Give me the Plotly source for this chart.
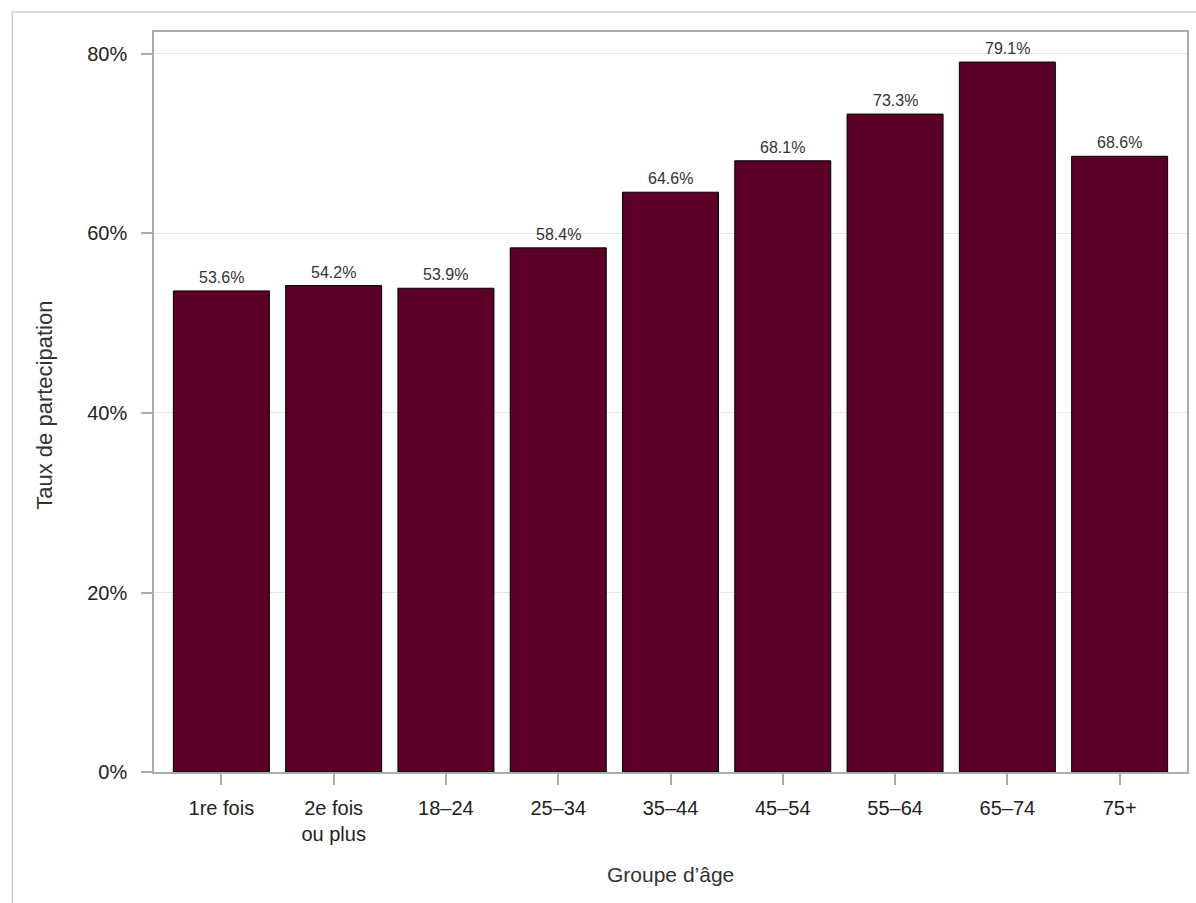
import plotly.graph_objects as go

categories = ["1re fois", "2e fois<br>ou plus", "18–24", "25–34", "35–44", "45–54", "55–64", "65–74", "75+"]
values = [53.6, 54.2, 53.9, 58.4, 64.6, 68.1, 73.3, 79.1, 68.6]
y_ticks = [0, 20, 40, 60, 80]
y_tick_labels = ["0%", "20%", "40%", "60%", "80%"]

FONT = "Liberation Sans, Arial, sans-serif"
xs = list(range(len(categories)))

fig = go.Figure()
fig.add_trace(go.Bar(
    x=xs, y=values, width=0.855,
    marker=dict(color="#5b0026", line=dict(color="#000000", width=1)),
    hoverinfo="skip",
))

for x, v in zip(xs, values):
    fig.add_annotation(x=x, y=v, text=f"{v:.1f}%", showarrow=False,
                       yanchor="bottom", yshift=3,
                       font=dict(family=FONT, size=16, color="#333333"))

# axis titles
fig.add_annotation(xref="paper", yref="paper", x=0.5, y=-0.139, text="Groupe d’âge",
                   showarrow=False, xanchor="center", yanchor="middle",
                   font=dict(family=FONT, size=21, color="#333333"))
fig.add_annotation(xref="paper", yref="paper", x=-0.1055, y=0.495, text="Taux de partecipation",
                   showarrow=False, textangle=-90, xanchor="center", yanchor="middle",
                   font=dict(family=FONT, size=22, color="#333333"))

# outer page border
fig.add_shape(type="rect", xref="paper", yref="paper",
              x0=(12 - 154) / 1035, x1=1.1, y0=-0.3, y1=(772 - 12) / 740,
              line=dict(color="#d0d0d0", width=1.5), layer="below")

fig.update_layout(
    width=1196, height=903,
    margin=dict(l=154, r=7, t=32, b=131),
    paper_bgcolor="white", plot_bgcolor="white",
    showlegend=False,
    font=dict(family=FONT, size=20, color="#333333"),
    xaxis=dict(
        range=[-0.6, 8.6], tickmode="array", tickvals=xs, ticktext=categories,
        showline=True, linecolor="#a8acb0", linewidth=1.5, mirror=True,
        ticks="outside", ticklen=11, tickcolor="#a8acb0", tickwidth=1.5,
        showgrid=False, zeroline=False, ticklabelstandoff=6,
        tickfont=dict(family=FONT, size=20, color="#222222"),
    ),
    yaxis=dict(
        range=[0, 82.45], tickmode="array", tickvals=y_ticks, ticktext=y_tick_labels,
        showline=True, linecolor="#a8acb0", linewidth=1.5, mirror=True,
        ticks="outside", ticklen=11, tickcolor="#a8acb0", tickwidth=1.5,
        showgrid=True, gridcolor="#e6e6e6", gridwidth=1, zeroline=False,
        ticklabelstandoff=10,
        tickfont=dict(family=FONT, size=20, color="#222222"),
    ),
)

fig.write_html("out.html", config={"displayModeBar": False},
               post_script="document.body.style.margin='0';")
